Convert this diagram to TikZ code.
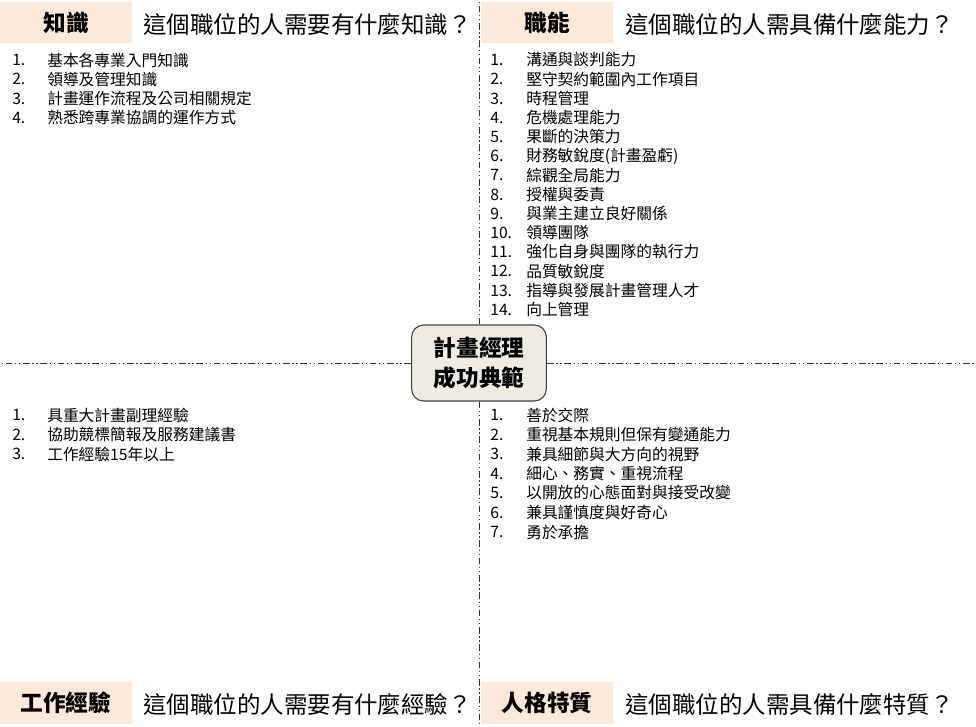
\documentclass[tikz,border=0pt]{standalone}
\usepackage{fontspec}
\setmainfont{Noto Sans CJK TC}
\usetikzlibrary{positioning}
\definecolor{peach}{HTML}{FDE9D9}
\definecolor{paper}{HTML}{EEECE1}

\tikzset{
  tagbox/.style={fill=peach, minimum width=99pt, minimum height=31pt, inner sep=0pt,
    font=\fontsize{17}{20}\selectfont\bfseries},
  question/.style={anchor=west, inner sep=0pt, font=\fontsize{17.6}{20}\selectfont},
  item/.style={anchor=west, inner sep=0pt, font=\fontsize{11.8}{14}\selectfont},
  axis/.style={line width=0.6pt, black!80, dash pattern=on 5pt off 2pt on 1pt off 2pt on 1pt off 2pt}
}

\begin{document}
\begin{tikzpicture}[x=0.75pt, y=-0.75pt]
  \useasboundingbox (0,0) rectangle (976,726);

  % centre box and the two axes
  \node[draw=black!75, fill=paper, rounded corners=9pt, line width=0.8pt,
        minimum width=101pt, minimum height=57pt, align=center,
        font=\fontsize{17}{22}\selectfont\bfseries] (core) at (479,363) {計畫經理\\成功典範};
  \coordinate (n) at (479,0);
  \coordinate (s) at (479,726);
  \coordinate (w) at (0,363);
  \coordinate (e) at (976,363);
  \draw[axis] (core) -- (n);
  \draw[axis] (core) -- (s);
  \draw[axis] (core) -- (w);
  \draw[axis] (core) -- (e);

  % headers
  \node[tagbox] (know) at (66,22.5) {知識};
  \node[question] (qknow) at (143,25) {這個職位的人需要有什麼知識？};
  \node[tagbox] (skill) at (547,22.5) {職能};
  \node[question] (qskill) at (625,25) {這個職位的人需具備什麼能力？};
  \node[tagbox] (exp) at (66,703) {工作經驗};
  \node[question] (qexp) at (143,705) {這個職位的人需要有什麼經驗？};
  \node[tagbox] (trait) at (547,703) {人格特質};
  \node[question] (qtrait) at (625,705) {這個職位的人需具備什麼特質？};

  % lists
  \foreach \t [count=\i] in {基本各專業入門知識, 領導及管理知識, 計畫運作流程及公司相關規定,
      熟悉跨專業協調的運作方式} {
    \node[item] (kn\i) at (12,40.7+19.3*\i) {\i.};
    \node[item] (kt\i) at (47,40.7+19.3*\i) {\t};
  }
  \foreach \t [count=\i] in {溝通與談判能力, 堅守契約範圍內工作項目, 時程管理, 危機處理能力,
      果斷的決策力, 財務敏銳度(計畫盈虧), 綜觀全局能力, 授權與委責, 與業主建立良好關係,
      領導團隊, 強化自身與團隊的執行力, 品質敏銳度, 指導與發展計畫管理人才, 向上管理} {
    \node[item] (sn\i) at (490,40.8+19.2*\i) {\i.};
    \node[item] (st\i) at (526,40.8+19.2*\i) {\t};
  }
  \foreach \t [count=\i] in {具重大計畫副理經驗, 協助競標簡報及服務建議書, 工作經驗15年以上} {
    \node[item] (en\i) at (12,395.5+19.5*\i) {\i.};
    \node[item] (et\i) at (47,395.5+19.5*\i) {\t};
  }
  \foreach \t [count=\i] in {善於交際, 重視基本規則但保有變通能力, 兼具細節與大方向的視野,
      細心、務實、重視流程, 以開放的心態面對與接受改變, 兼具謹慎度與好奇心, 勇於承擔} {
    \node[item] (tn\i) at (490,395.5+19.5*\i) {\i.};
    \node[item] (tt\i) at (526,395.5+19.5*\i) {\t};
  }
\end{tikzpicture}
\end{document}
